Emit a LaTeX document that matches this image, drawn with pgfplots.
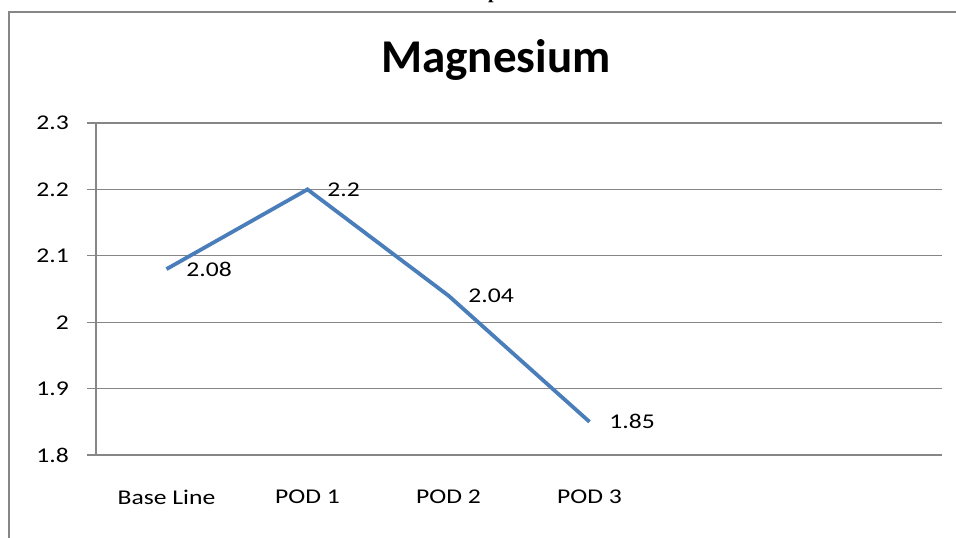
\documentclass[border=0pt]{standalone}
\usepackage{pgfplots}
\pgfplotsset{compat=1.18}
\usepackage{fontspec}
\setmainfont{Carlito}
\newfontfamily\lab{Carlito}[FakeStretch=1.22]
\newfontfamily\serifb{Liberation Serif}
\definecolor{gridgray}{RGB}{134,134,134}
\definecolor{lineblue}{RGB}{74,126,187}
\begin{document}
\begin{tikzpicture}[x=0.5pt,y=-0.5pt]
\useasboundingbox (0,0) rectangle (956,537);
\clip (0,0) rectangle (956,537);
\fill[white] (0,0) rectangle (956,537);
% chart border
\draw[gridgray,line width=0.9pt] (9,560) -- (9,12) -- (990,12);
% cut-off heading above chart
\node[anchor=base,inner sep=0pt,font=\serifb\bfseries\fontsize{10}{12}\selectfont] at (482,-2) {Graph};
% title
\node[anchor=center,inner sep=0pt,font=\bfseries\fontsize{23.5}{28}\selectfont] at (496,60) {Magnesium};
\begin{axis}[
  at={(48pt,-227.5pt)}, anchor=south west,
  scale only axis, width=423pt, height=166pt,
  xmin=-0.5, xmax=5.5, ymin=1.8, ymax=2.3,
  ytick={1.8,1.9,2,2.1,2.2,2.3},
  yticklabels={1.8,1.9,2,2.1,2.2,2.3},
  xtick={0,1,2,3},
  xticklabels={Base Line,POD 1,POD 2,POD 3},
  axis x line=bottom, axis y line=left,
  axis line style={gridgray,line width=0.6pt,-},
  ymajorgrids, major grid style={gridgray,line width=0.6pt},
  ytick style={gridgray,line width=0.6pt},
  major tick length=4.5pt, tick align=outside,
  xtick style={draw=none},
  tick label style={font=\lab\fontsize{10.5}{12}\selectfont, text=black},
  yticklabel style={xshift=-5.5pt},
  xticklabel style={yshift=-9.5pt},
  clip=false,
]
\addplot[lineblue, line width=1.9pt,
  nodes near coords,
  point meta=explicit symbolic,
  every node near coord/.style={anchor=west, xshift=8pt, font=\lab\fontsize{10.5}{12}\selectfont, text=black, inner sep=1pt}]
  table[meta=label] {
x y label
0 2.08 2.08
1 2.20 2.2
2 2.04 2.04
3 1.85 1.85
};
\end{axis}
\end{tikzpicture}
\end{document}
